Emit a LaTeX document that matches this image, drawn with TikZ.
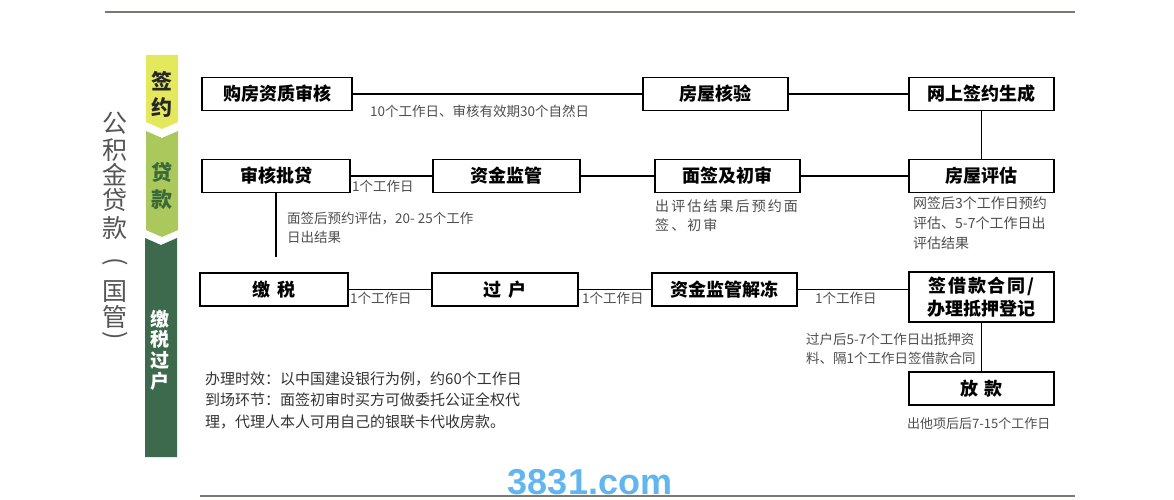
\documentclass[tikz,border=0pt]{standalone}
\usepackage{fontspec}
\usepackage{graphicx}
\setmainfont{Noto Sans CJK SC}
\newfontfamily\wmfont{Liberation Sans}
\definecolor{bnyellow}{HTML}{E3E85C}
\definecolor{bngreen}{HTML}{ABC85C}
\definecolor{bndark}{HTML}{3D6A4C}
\definecolor{bngreentext}{HTML}{3B6A3A}
\definecolor{labelgray}{HTML}{4E4E4E}
\definecolor{titlegray}{HTML}{555555}
\definecolor{rulegray}{HTML}{7A7A72}
\definecolor{wmblue}{HTML}{62B6F0}
\newcommand\vlparen{\rotatebox[origin=c]{-90}{(}}
\newcommand\vrparen{\rotatebox[origin=c]{-90}{)}}
\tikzset{
  procbox/.style={draw=black, line width=1.5pt, fill=white, inner sep=0pt,
    minimum height=33pt, text=black, align=center,
    font=\fontsize{18}{23}\selectfont\bfseries},
  lbl/.style={inner sep=0pt, anchor=west, align=left, text=labelgray,
    font=\fontsize{13.5}{19}\selectfont},
  link/.style={line width=1.3pt, draw=black},
  titlech/.style={inner sep=0pt, text=titlegray, font=\fontsize{25}{25}\selectfont},
  bntext/.style={inner sep=0pt, align=center},
  rule/.style={line width=1.1pt, draw=rulegray}
}
\begin{document}
\begin{tikzpicture}[x=1pt,y=-1pt]
\useasboundingbox[fill=white] (0,0) rectangle (1174,500);

% page rules
\coordinate (topL) at (105,12);
\coordinate (topR) at (1075,12);
\coordinate (botL) at (200,496);
\coordinate (botR) at (1075,496);
\draw[rule] (topL) -- (topR);
\draw[rule] (botL) -- (botR);

% left banner
\fill[bnyellow] (146,55) -- (178,55) -- (178,122) -- (162,129) -- (146,122) -- cycle;
\fill[bngreen] (146,131) -- (162,138) -- (178,131) -- (178,230) -- (162,237) -- (146,230) -- cycle;
\fill[bndark] (145,238) -- (161,245) -- (177,238) -- (177,457) -- (145,457) -- cycle;
\node[bntext, text=black!85, font=\fontsize{21}{26}\selectfont\bfseries] (bn1) at (162,94.5) {签\\约};
\node[bntext, text=bngreentext, font=\fontsize{21}{27}\selectfont\bfseries] (bn2) at (162,185.5) {贷\\款};
\node[bntext, text=white, font=\fontsize{19}{20.7}\selectfont\bfseries] (bn3) at (160,350) {缴\\税\\过\\户};

% vertical title
\foreach \ch/\yy [count=\i] in {公/123, 积/150, 金/175, 贷/200, 款/228, \vlparen/263, 国/292, 管/317, \vrparen/337}
  \node[titlech] (title\i) at (115,\yy) {\ch};

% row 1
\node[procbox, minimum width=150pt] (b1) at (277,94) {购房资质审核};
\node[procbox, minimum width=145pt] (b2) at (715.5,94) {房屋核验};
\node[procbox, minimum width=145pt] (b3) at (981.5,94) {网上签约生成};

% row 2
\node[procbox, minimum width=148pt] (c1) at (276,176) {审核批贷};
\node[procbox, minimum width=147pt] (c2) at (506.5,176) {资金监管};
\node[procbox, minimum width=145pt] (c3) at (727.5,176) {面签及初审};
\node[procbox, minimum width=145pt] (c4) at (981.5,176) {房屋评估};

% row 3
\node[procbox, minimum width=148pt] (d1) at (274,289.5) {缴\hspace{0.35em}税};
\node[procbox, minimum width=146pt] (d2) at (505,289.5) {过\hspace{0.35em}户};
\node[procbox, minimum width=145pt] (d3) at (724.5,289.5) {资金监管解冻};
\node[procbox, minimum width=145pt, minimum height=50pt] (d4) at (981.5,297)
  {{\addfontfeature{LetterSpace=10}签借款合同/}\\办理抵押登记};
\node[procbox, minimum width=145pt] (e1) at (981.5,388.5) {放\hspace{0.35em}款};

% connectors
\draw[link] (b1) -- (b2);
\draw[link] (b2) -- (b3);
\draw[link] (b3) -- (c4);
\draw[link] (c4) -- (c3);
\draw[link] (c3) -- (c2);
\draw[link] (c2) -- (c1);
\coordinate (c1stop) at (276,257);
\draw[link] (c1.south) -- (c1stop);
\draw[link] (d1) -- (d2);
\draw[link] (d2) -- (d3);
\draw[link] (d3.east) -- (d3.east -| d4.west);
\draw[link] (d4) -- (e1);

% labels
\node[lbl] (l1) at (370,111) {10个工作日、审核有效期30个自然日};
\node[lbl] (l2) at (352,186) {1个工作日};
\node[lbl, font=\fontsize{13.5}{18.5}\selectfont] (l3) at (287,228) {面签后预约评估，20- 25个工作\\日出结果};
\node[lbl, font=\fontsize{14}{19}\selectfont\addfontfeature{LetterSpace=15}] (l4) at (655,215.5) {出评估结果后预约面\\签、初审};
\node[lbl, font=\fontsize{14}{20}\selectfont] (l5) at (913,223) {网签后3个工作日预约\\评估、5-7个工作日出\\评估结果};
\node[lbl] (l6) at (350,298) {1个工作日};
\node[lbl] (l7) at (582,298) {1个工作日};
\node[lbl] (l8) at (815,298) {1个工作日};
\node[lbl, font=\fontsize{13.5}{18.5}\selectfont] (l9) at (806,349) {过户后5-7个工作日出抵押资\\料、隔1个工作日签借款合同};
\node[lbl, font=\fontsize{13}{18}\selectfont] (l10) at (907,424) {出他项后后7-15个工作日};
\node[lbl, text=black!80, font=\fontsize{15}{21.5}\selectfont] (note) at (205,400)
  {办理时效：以中国建设银行为例，约60个工作日\\到场环节：面签初审时买方可做委托公证全权代\\理，代理人本人可用自己的银联卡代收房款。};

% watermark
\node[inner sep=0pt, anchor=base, text=wmblue, font=\wmfont\bfseries\fontsize{36}{40}\selectfont] (wm) at (590,494) {3831.com};
\end{tikzpicture}
\end{document}
